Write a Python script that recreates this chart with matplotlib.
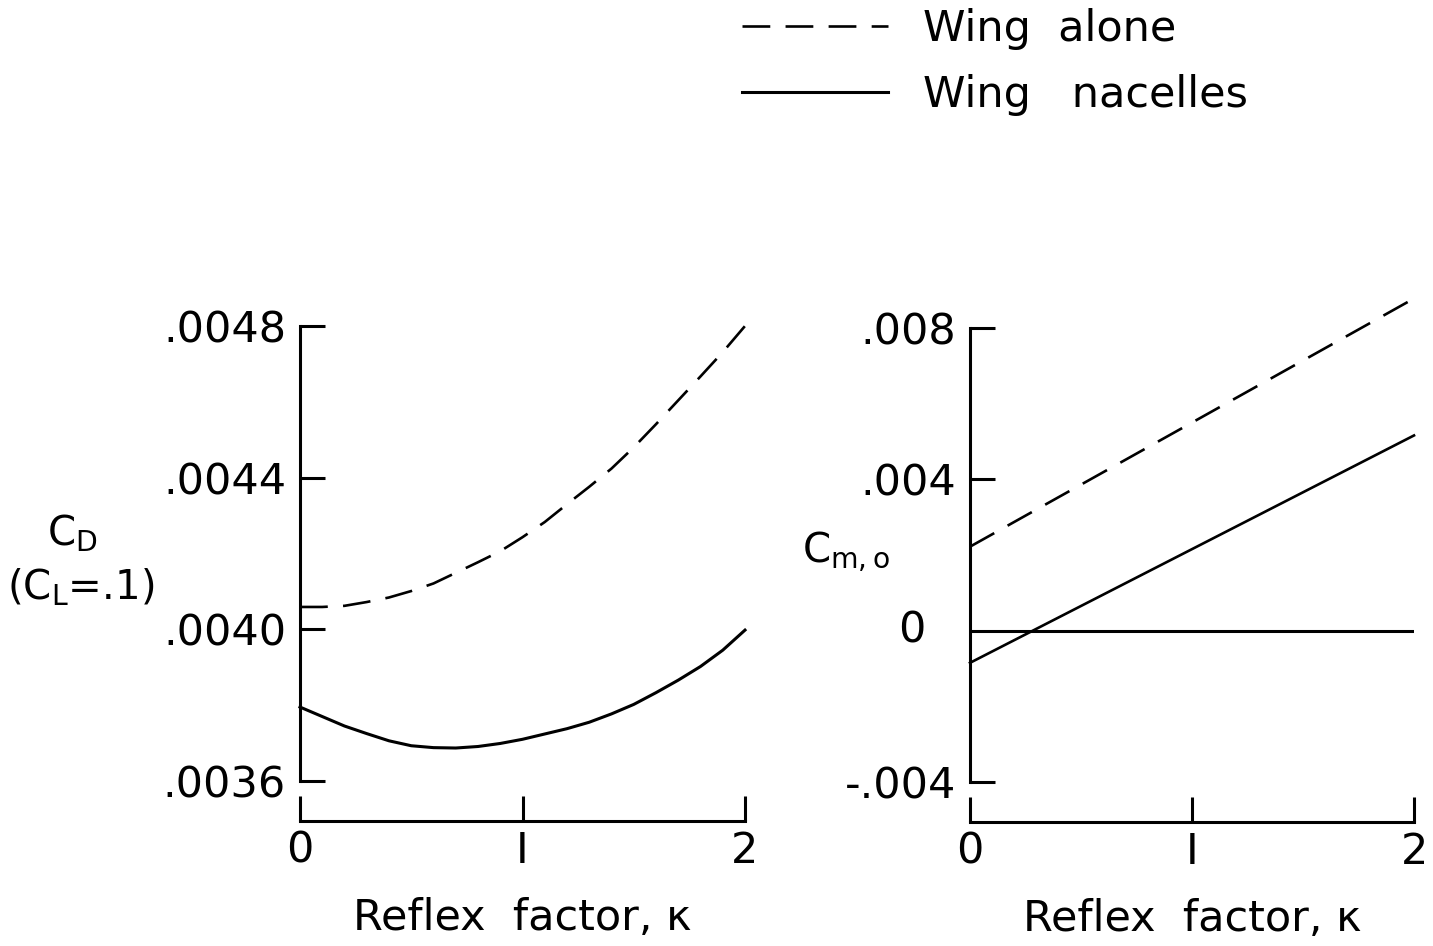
import matplotlib
matplotlib.use("Agg")
import matplotlib.pyplot as plt
import numpy as np

# ---- data ----
kappa_curve = [0.0, 0.1, 0.2, 0.3, 0.4, 0.5, 0.6, 0.7, 0.8, 0.9, 1.0,
               1.1, 1.2, 1.3, 1.4, 1.5, 1.6, 1.7, 1.8, 1.9, 2.0]
cd_wing_alone = [0.004059, 0.004059, 0.004062, 0.004072, 0.004084, 0.004101,
                 0.004121, 0.004149, 0.004177, 0.004206, 0.004243, 0.004283,
                 0.004330, 0.004376, 0.004424, 0.004480, 0.004541, 0.004604,
                 0.004667, 0.004731, 0.004800]
cd_wing_nacelles = [0.003795, 0.003770, 0.003745, 0.003725, 0.003706, 0.003693,
                    0.003688, 0.003687, 0.003691, 0.003699, 0.003710, 0.003724,
                    0.003738, 0.003755, 0.003777, 0.003802, 0.003833, 0.003866,
                    0.003902, 0.003945, 0.003998]

kappa_line = [0.0, 2.0]
cm_wing_alone = [0.00222, 0.00878]
cm_wing_nacelles = [-0.00085, 0.00516]

x_ticks = [0, 1, 2]
x_tick_labels = ["0", "I", "2"]
cd_ticks = [0.0036, 0.0040, 0.0044, 0.0048]
cd_tick_labels = [".0036", ".0040", ".0044", ".0048"]
cm_ticks = [-0.004, 0.004, 0.008]
cm_tick_labels = ["-.004", ".004", ".008"]
cm_zero_label = "0"

legend_labels = ["Wing  alone", "Wing   nacelles"]
x_label = "Reflex  factor, \u03ba"

plt.rcParams['font.family'] = ['DejaVu Sans']
plt.rcParams['mathtext.default'] = 'regular'
plt.rcParams['lines.scale_dashes'] = False

FS = 31
W, H = 1433, 946
fig = plt.figure(figsize=(W / 100, H / 100), dpi=100)

def px_axes(x0, x1, ytop, ybot):
    return fig.add_axes([x0 / W, 1 - ybot / H, (x1 - x0) / W, (ybot - ytop) / H])

ax1 = px_axes(300, 745, 326, 781)
ax2 = px_axes(970, 1414, 328, 782)

DASH = (0, (20, 11))
for ax in (ax1, ax2):
    for s in ("top", "right"):
        ax.spines[s].set_visible(False)
    for s in ("left", "bottom"):
        ax.spines[s].set_linewidth(2.2)
    ax.spines["bottom"].set_position(("outward", 29))
    ax.set_xlim(0, 2)
    ax.set_xticks(x_ticks)
    ax.set_xticklabels(x_tick_labels)
    ax.tick_params(axis="both", direction="in", length=18, width=2.2,
                   labelsize=FS, colors="black")
    ax.tick_params(axis="x", pad=6)
    ax.tick_params(axis="y", pad=10)
    ax.patch.set_visible(False)
    ax.set_xlabel(x_label, fontsize=FS, labelpad=18)

# left panel
ax1.set_ylim(0.0036, 0.0048)
ax1.set_yticks(cd_ticks)
ax1.set_yticklabels(cd_tick_labels)
ax1.plot(kappa_curve, cd_wing_alone, color="black", lw=1.9, linestyle=DASH, clip_on=False)
ax1.plot(kappa_curve, cd_wing_nacelles, color="black", lw=2.2, clip_on=False)

# right panel
ax2.set_ylim(-0.004, 0.008)
ax2.set_yticks(cm_ticks)
ax2.set_yticklabels(cm_tick_labels)
ax2.axhline(0, color="black", lw=2.2)
ax2.plot(kappa_line, cm_wing_alone, color="black", lw=1.9, linestyle=DASH, clip_on=False)
ax2.plot(kappa_line, cm_wing_nacelles, color="black", lw=1.9, clip_on=False)
ax2.text(-0.10, 0, cm_zero_label, fontsize=FS, ha="right", va="center",
         transform=ax2.get_yaxis_transform())

# y labels
fig.text(72 / W, 1 - 534 / H, "C$_{D}$", fontsize=29, ha="center", va="center")
fig.text(81 / W, 1 - 588 / H, "(C$_{L}$=.1)", fontsize=29, ha="center", va="center")
fig.text(846 / W, 1 - 552 / H, "C$_{m,o}$", fontsize=29, ha="center", va="center")

# legend
h1, = ax1.plot([], [], color="black", lw=1.9, linestyle=DASH)
h2, = ax1.plot([], [], color="black", lw=2.2)
fig.legend([h1, h2], legend_labels, loc="upper left",
           bbox_to_anchor=(742 / W, 1 - 8 / H), frameon=False, fontsize=FS,
           handlelength=3.4, handletextpad=0.8, labelspacing=0.55,
           borderpad=0, borderaxespad=0)

fig.savefig("out.png", dpi=100)
